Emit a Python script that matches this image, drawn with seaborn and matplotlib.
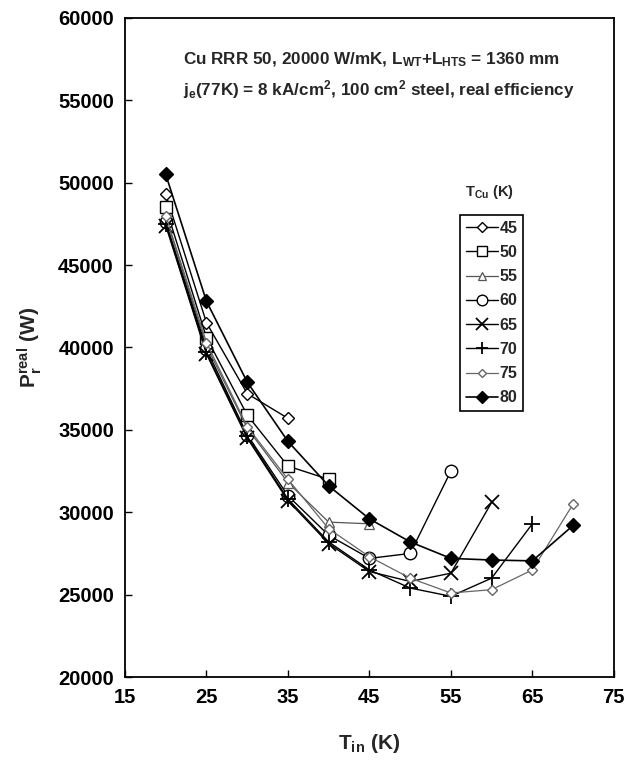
import matplotlib
matplotlib.use("Agg")
import matplotlib.pyplot as plt
import seaborn as sns
import pandas as pd

# ---- data ----
t_cu_labels = ["45", "50", "55", "60", "65", "70", "75", "80"]
tin_45 = [20, 25, 30, 35]
p_45 = [49300, 41500, 37200, 35700]
tin_50 = [20, 25, 30, 35, 40]
p_50 = [48500, 40600, 35900, 32800, 32000]
tin_55 = [20, 25, 30, 35, 40, 45]
p_55 = [47900, 40100, 35100, 31800, 29400, 29300]
tin_60 = [20, 25, 30, 35, 40, 45, 50, 55]
p_60 = [47600, 39900, 34700, 31000, 28600, 27200, 27500, 32500]
tin_65 = [20, 25, 30, 35, 40, 45, 50, 55, 60]
p_65 = [47400, 39600, 34500, 30700, 28100, 26400, 25800, 26300, 30600]
tin_70 = [20, 25, 30, 35, 40, 45, 50, 55, 60, 65]
p_70 = [47500, 39700, 34600, 30800, 28200, 26500, 25400, 24900, 26000, 29300]
tin_75 = [20, 25, 30, 35, 40, 45, 50, 55, 60, 65, 70]
p_75 = [48000, 40300, 35200, 32000, 29000, 27300, 26000, 25100, 25300, 26500, 30500]
tin_80 = [20, 25, 30, 35, 40, 45, 50, 55, 60, 65, 70]
p_80 = [50500, 42800, 37900, 34300, 31600, 29600, 28200, 27200, 27100, 27050, 29200]

series_x = [tin_45, tin_50, tin_55, tin_60, tin_65, tin_70, tin_75, tin_80]
series_y = [p_45, p_50, p_55, p_60, p_65, p_70, p_75, p_80]

sns.set_style("white")
plt.rcParams['font.family'] = ['Liberation Sans', 'DejaVu Sans']
plt.rcParams['font.weight'] = 'bold'
plt.rcParams['mathtext.fontset'] = 'custom'
plt.rcParams['mathtext.rm'] = 'Liberation Sans:bold'
plt.rcParams['mathtext.it'] = 'Liberation Sans:bold'
plt.rcParams['mathtext.bf'] = 'Liberation Sans:bold'

fig = plt.figure(figsize=(6.27, 7.71), dpi=100)
ax = fig.add_axes([0.1994, 0.1219, 0.7796, 0.8548])

styles = [
    dict(marker='D', ms=6, mfc='white', mec='black', color='black', lw=1.0, mew=1.0),
    dict(marker='s', ms=8, mfc='white', mec='black', color='black', lw=1.0, mew=1.0),
    dict(marker='^', ms=7, mfc='white', mec='#555555', color='#555555', lw=0.9, mew=0.9),
    dict(marker='o', ms=9, mfc='white', mec='black', color='black', lw=1.0, mew=1.0),
    dict(marker='x', ms=10, mfc='none', mec='black', color='black', lw=1.0, mew=1.3),
    dict(marker='+', ms=11, mfc='none', mec='black', color='black', lw=1.0, mew=1.3),
    dict(marker='D', ms=5, mfc='white', mec='#666666', color='#666666', lw=0.9, mew=1.0),
    dict(marker='D', ms=7, mfc='black', mec='black', color='black', lw=1.2, mew=1.0),
]

handles = []
for xs, ys, lab, st in zip(series_x, series_y, t_cu_labels, styles):
    df = pd.DataFrame({"x": xs, "y": ys})
    sns.lineplot(data=df, x="x", y="y", ax=ax, color=st['color'], lw=st['lw'],
                 marker=st['marker'], markersize=st['ms'], markerfacecolor=st['mfc'],
                 markeredgecolor=st['mec'], markeredgewidth=st['mew'],
                 sort=False, legend=False, label=lab)
    handles.append(ax.lines[-1])

ax.set_xlim(15, 75)
ax.set_ylim(20000, 60000)
ax.set_xticks([15, 25, 35, 45, 55, 65, 75])
ax.set_yticks(range(20000, 60001, 5000))
ax.tick_params(direction='in', length=5, width=1, labelsize=14.5, pad=8,
               bottom=True, left=True, colors='black')
for lbl in ax.get_xticklabels() + ax.get_yticklabels():
    lbl.set_fontweight('bold')
for sp in ax.spines.values():
    sp.set_color('black')
    sp.set_linewidth(1.3)

ax.set_xlabel(r'T$_{\rm in}$ (K)', fontsize=15, fontweight='bold', labelpad=18)
ax.set_ylabel(r'P$_{\rm r}^{\rm real}$ (W)', fontsize=15, fontweight='bold', labelpad=10)

ax.text(0.118, 0.936, r'Cu RRR 50, 20000 W/mK, L$_{\rm WT}$+L$_{\rm HTS}$ = 1360 mm',
        transform=ax.transAxes, fontsize=12.3, fontweight='bold', va='center', ha='left')
ax.text(0.118, 0.891, r'j$_{\rm e}$(77K) = 8 kA/cm$^{2}$, 100 cm$^{2}$ steel, real efficiency',
        transform=ax.transAxes, fontsize=12.3, fontweight='bold', va='center', ha='left')

ax.text(0.745, 0.736, r'T$_{\rm Cu}$ (K)', transform=ax.transAxes, fontsize=10.5,
        fontweight='bold', ha='center', va='center')

leg = ax.legend(handles=handles, labels=t_cu_labels, loc='upper left',
                bbox_to_anchor=(0.686, 0.701), frameon=True, fancybox=False,
                edgecolor='black', framealpha=1, fontsize=11.5, handlelength=2.0,
                handletextpad=0.1, labelspacing=0.58, borderpad=0.35,
                borderaxespad=0, markerscale=0.85)
leg.get_frame().set_linewidth(1.2)
for t in leg.get_texts():
    t.set_fontweight('bold')

fig.savefig("out.png", dpi=100)
